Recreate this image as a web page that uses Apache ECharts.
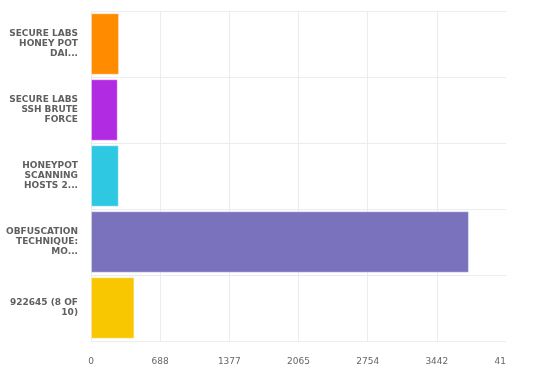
<!DOCTYPE html>
<html>
<head>
<meta charset="utf-8">
<script src="https://cdn.jsdelivr.net/npm/echarts@6/dist/echarts.min.js"></script>
<style>html,body{margin:0;padding:0;background:#fff}#c{width:545px;height:372px}</style>
</head>
<body>
<div id="c"></div>
<script>
const categories = [
  'SECURE LABS HONEY POT DAI...',
  'SECURE LABS SSH BRUTE FORCE',
  'HONEYPOT SCANNING HOSTS 2...',
  'OBFUSCATION TECHNIQUE: MO...',
  '922645 (8 OF 10)'
];
const values = [279, 266, 276, 3761, 432];
const barColors = ['#FF8C00', '#B12BE2', '#2FC8E3', '#7B72BE', '#F9C702'];
const tickLabels = ['0', '688', '1377', '2065', '2754', '3442', '41'];
const axisMax = 4130;
const tickStep = axisMax / 6;

const labelFont = 'bold 9px "DejaVu Sans"';
const ctx = document.createElement('canvas').getContext('2d');
ctx.font = labelFont;
function wrap(text, maxW) {
  const words = text.split(' ');
  const lines = [];
  let cur = '';
  words.forEach(w => {
    const t = cur ? cur + ' ' + w : w;
    if (cur && ctx.measureText(t).width > maxW) { lines.push(cur); cur = w; }
    else cur = t;
  });
  if (cur) lines.push(cur);
  return lines.join('\n');
}

const chart = echarts.init(document.getElementById('c'), null, {renderer: 'canvas'});
chart.setOption({
  animation: false,
  grid: {left: 91, right: 39, top: 11, bottom: 31, containLabel: false},
  xAxis: {
    type: 'value', min: 0, max: axisMax, interval: tickStep,
    axisLine: {show: false}, axisTick: {show: false},
    splitLine: {show: true, showMaxLine: false, lineStyle: {color: '#ececec', width: 1}},
    axisLabel: {
      color: '#666', fontFamily: 'DejaVu Sans', fontSize: 9, margin: 16,
      alignMaxLabel: 'right',
      formatter: function (v) { return tickLabels[Math.round(v / tickStep)]; }
    }
  },
  yAxis: {
    type: 'category', inverse: true, data: categories,
    axisLine: {show: false}, axisTick: {show: false},
    splitLine: {show: true, lineStyle: {color: '#ececec', width: 1}},
    axisLabel: {
      color: '#606060', fontFamily: 'DejaVu Sans', fontSize: 9, fontWeight: 'bold',
      lineHeight: 10, align: 'right', margin: 13,
      formatter: function (v) { return wrap(v, 80); }
    }
  },
  series: [{
    type: 'bar', barCategoryGap: '7%',
    data: values.map((v, i) => ({value: v, itemStyle: {color: barColors[i]}})),
    itemStyle: {borderColor: 'rgba(255,255,255,0.35)', borderWidth: 1}
  }]
});
</script>
</body>
</html>
